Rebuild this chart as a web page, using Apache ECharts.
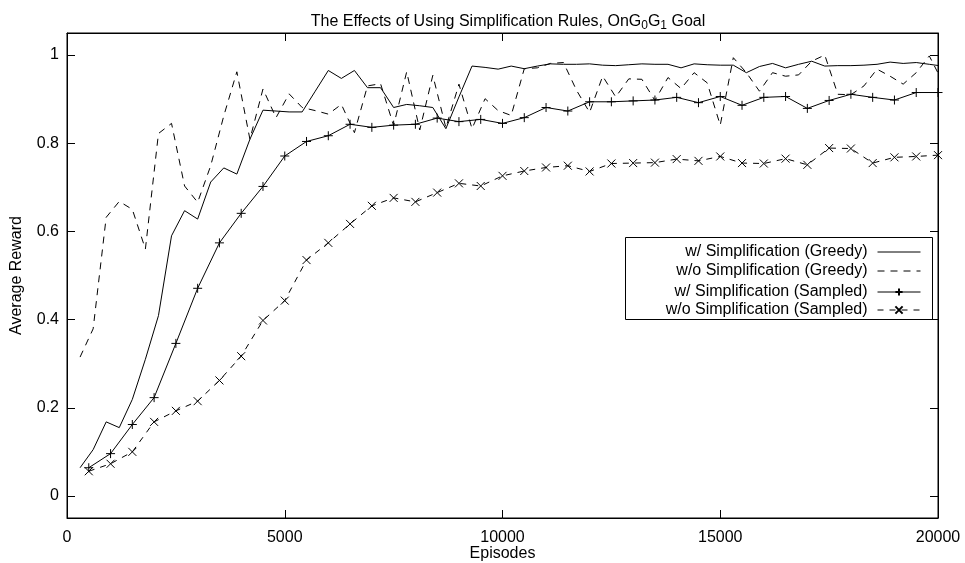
<!DOCTYPE html>
<html>
<head>
<meta charset="utf-8">
<script src="https://cdn.jsdelivr.net/npm/echarts@6/dist/echarts.min.js"></script>
<style>html,body{margin:0;padding:0;background:#fff;}#c{width:965px;height:563px;}</style>
</head>
<body>
<div id="c"></div>
<script>
// Greedy evaluations (every 300 episodes)
const greedyEpisodes = [300,600,900,1200,1500,1800,2100,2400,2700,3000,3300,3600,3900,4200,4500,4800,5100,5400,5700,6000,6300,6600,6900,7200,7500,7800,8100,8400,8700,9000,9300,9600,9900,10200,10500,10800,11100,11400,11700,12000,12300,12600,12900,13200,13500,13800,14100,14400,14700,15000,15300,15600,15900,16200,16500,16800,17100,17400,17700,18000,18300,18600,18900,19200,19500,19800,20100];
const withSimpGreedy = [0.064,0.105,0.168,0.155,0.219,0.31,0.409,0.590,0.647,0.628,0.712,0.744,0.730,0.809,0.875,0.873,0.871,0.871,0.918,0.965,0.947,0.965,0.926,0.926,0.881,0.888,0.885,0.881,0.833,0.905,0.975,0.972,0.968,0.975,0.969,0.975,0.980,0.979,0.979,0.980,0.977,0.976,0.978,0.980,0.979,0.979,0.971,0.980,0.978,0.977,0.977,0.960,0.974,0.981,0.971,0.979,0.986,0.975,0.976,0.976,0.977,0.979,0.984,0.981,0.983,0.979,0.975];
const withoutSimpGreedy = [0.315,0.379,0.632,0.668,0.650,0.560,0.822,0.845,0.703,0.666,0.749,0.862,0.962,0.809,0.923,0.858,0.912,0.881,0.874,0.866,0.888,0.824,0.930,0.935,0.840,0.962,0.830,0.954,0.835,0.934,0.833,0.901,0.874,0.863,0.969,0.971,0.981,0.983,0.920,0.870,0.952,0.905,0.946,0.945,0.897,0.949,0.924,0.960,0.937,0.841,0.994,0.960,0.918,0.960,0.952,0.955,0.986,1.000,0.911,0.910,0.930,0.968,0.952,0.934,0.960,0.998,0.940];
// Sampled evaluations (every 500 episodes)
const sampledEpisodes = [500,1000,1500,2000,2500,3000,3500,4000,4500,5000,5500,6000,6500,7000,7500,8000,8500,9000,9500,10000,10500,11000,11500,12000,12500,13000,13500,14000,14500,15000,15500,16000,16500,17000,17500,18000,18500,19000,19500,20000];
const withSimpSampled = [0.064,0.096,0.162,0.223,0.346,0.471,0.574,0.641,0.702,0.771,0.804,0.817,0.843,0.836,0.841,0.843,0.857,0.849,0.854,0.845,0.858,0.881,0.873,0.894,0.894,0.896,0.898,0.904,0.892,0.906,0.886,0.904,0.906,0.879,0.897,0.911,0.904,0.898,0.915,0.915];
const withoutSimpSampled = [0.056,0.073,0.100,0.168,0.193,0.215,0.262,0.317,0.398,0.443,0.535,0.574,0.617,0.658,0.676,0.667,0.688,0.709,0.703,0.726,0.737,0.745,0.749,0.736,0.754,0.755,0.756,0.764,0.760,0.770,0.755,0.754,0.765,0.751,0.789,0.788,0.755,0.768,0.770,0.773];
const seriesNames = ['w/ Simplification (Greedy)','w/o Simplification (Greedy)','w/ Simplification (Sampled)','w/o Simplification (Sampled)'];
const xTicks = [0,5000,10000,15000,20000];
const yTicks = [0,0.2,0.4,0.6,0.8,1];

const FONT = 'Liberation Sans, Arial, sans-serif';
const FS = 16;
const zip = (xs, ys) => xs.map((x, i) => [x, ys[i]]);
const plus = 'path://M5,0L5,10M0,5L10,5';
const cross = 'path://M0,0L10,10M10,0L0,10';

const chart = echarts.init(document.getElementById('c'));
const legendRows = [244, 263, 284, 302];
const lineOnly = [true, true, false, false];
const option = {
  animation: false,
  backgroundColor: '#fff',
  textStyle: {fontFamily: FONT, color: '#000'},
  title: {
    text: 'The Effects of Using Simplification Rules, OnG{sub|0}G{sub|1} Goal',
    left: 503, top: 7, textAlign: 'center',
    textStyle: {
      fontFamily: FONT, fontSize: FS, fontWeight: 'normal', color: '#000', lineHeight: 20,
      rich: {sub: {fontFamily: FONT, fontSize: 12, color: '#000', verticalAlign: 'bottom', lineHeight: 14}}
    }
  },
  grid: {left: 67, right: 27, top: 33, bottom: 45, show: true, borderColor: '#000', borderWidth: 1,
    containLabel: false, outerBoundsMode: 'none'},
  xAxis: [{
    type: 'value', min: 0, max: 20000, position: 'bottom',
    name: 'Episodes', nameLocation: 'middle', nameGap: 28, nameMoveOverlap: false,
    nameTextStyle: {fontFamily: FONT, fontSize: FS, color: '#000'},
    axisLine: {show: true, onZero: false, lineStyle: {color: '#000', width: 1}},
    axisTick: {show: true, inside: true, length: 8, lineStyle: {color: '#000'}, customValues: xTicks},
    axisLabel: {fontFamily: FONT, fontSize: FS, color: '#000', margin: 12, customValues: xTicks,
      formatter: v => String(v)},
    splitLine: {show: false}
  }, {
    type: 'value', min: 0, max: 20000, position: 'top',
    axisLine: {show: true, onZero: false, lineStyle: {color: '#000', width: 1}},
    axisTick: {show: true, inside: true, length: 8, lineStyle: {color: '#000'}, customValues: xTicks},
    axisLabel: {show: false}, splitLine: {show: false}
  }],
  yAxis: [{
    type: 'value', min: -0.05, max: 1.05, position: 'left',
    name: 'Average Reward', nameLocation: 'middle', nameGap: 42, nameMoveOverlap: false,
    nameTextStyle: {fontFamily: FONT, fontSize: FS, color: '#000'},
    axisLine: {show: true, onZero: false, lineStyle: {color: '#000', width: 1}},
    axisTick: {show: true, inside: true, length: 8, lineStyle: {color: '#000'}, customValues: yTicks},
    axisLabel: {fontFamily: FONT, fontSize: FS, color: '#000', margin: 8, customValues: yTicks,
      formatter: v => String(Math.round(v * 10) / 10)},
    splitLine: {show: false}
  }, {
    type: 'value', min: -0.05, max: 1.05, position: 'right',
    axisLine: {show: true, onZero: false, lineStyle: {color: '#000', width: 1}},
    axisTick: {show: true, inside: true, length: 8, lineStyle: {color: '#000'}, customValues: yTicks},
    axisLabel: {show: false}, splitLine: {show: false}
  }],
  legend: seriesNames.map((n, i) => ({
    data: [lineOnly[i] ? {name: n, itemStyle: {opacity: 0}} : {name: n}],
    orient: 'vertical', right: 44, top: legendRows[i], align: 'right', padding: 0,
    itemWidth: 43, itemHeight: 9, selectedMode: false,
    lineStyle: {width: 1},
    textStyle: {fontFamily: FONT, fontSize: FS, color: '#000', padding: [0,5,0,0]}
  })),
  graphic: [{
    type: 'rect', left: 623, top: 235, shape: {width: 307, height: 82},
    style: {fill: 'none', stroke: '#000', lineWidth: 1}, z: 100
  }],
  series: [{
    name: seriesNames[0], type: 'line', data: zip(greedyEpisodes, withSimpGreedy),
    symbol: 'none', lineStyle: {color: '#000', width: 1, type: 'solid'}, itemStyle: {color: '#000'}
  }, {
    name: seriesNames[1], type: 'line', data: zip(greedyEpisodes, withoutSimpGreedy),
    symbol: 'none', lineStyle: {color: '#000', width: 1, type: [7, 6]}, itemStyle: {color: '#000'}
  }, {
    name: seriesNames[2], type: 'line', data: zip(sampledEpisodes, withSimpSampled),
    symbol: plus, symbolSize: 9, showAllSymbol: true,
    lineStyle: {color: '#000', width: 1, type: 'solid'},
    itemStyle: {color: '#000', borderColor: '#000', borderWidth: 1}
  }, {
    name: seriesNames[3], type: 'line', data: zip(sampledEpisodes, withoutSimpSampled),
    symbol: cross, symbolSize: 8, showAllSymbol: true,
    lineStyle: {color: '#000', width: 1, type: [6, 6]},
    itemStyle: {color: '#000', borderColor: '#000', borderWidth: 1}
  }]
};
chart.setOption(option);
</script>
</body>
</html>
